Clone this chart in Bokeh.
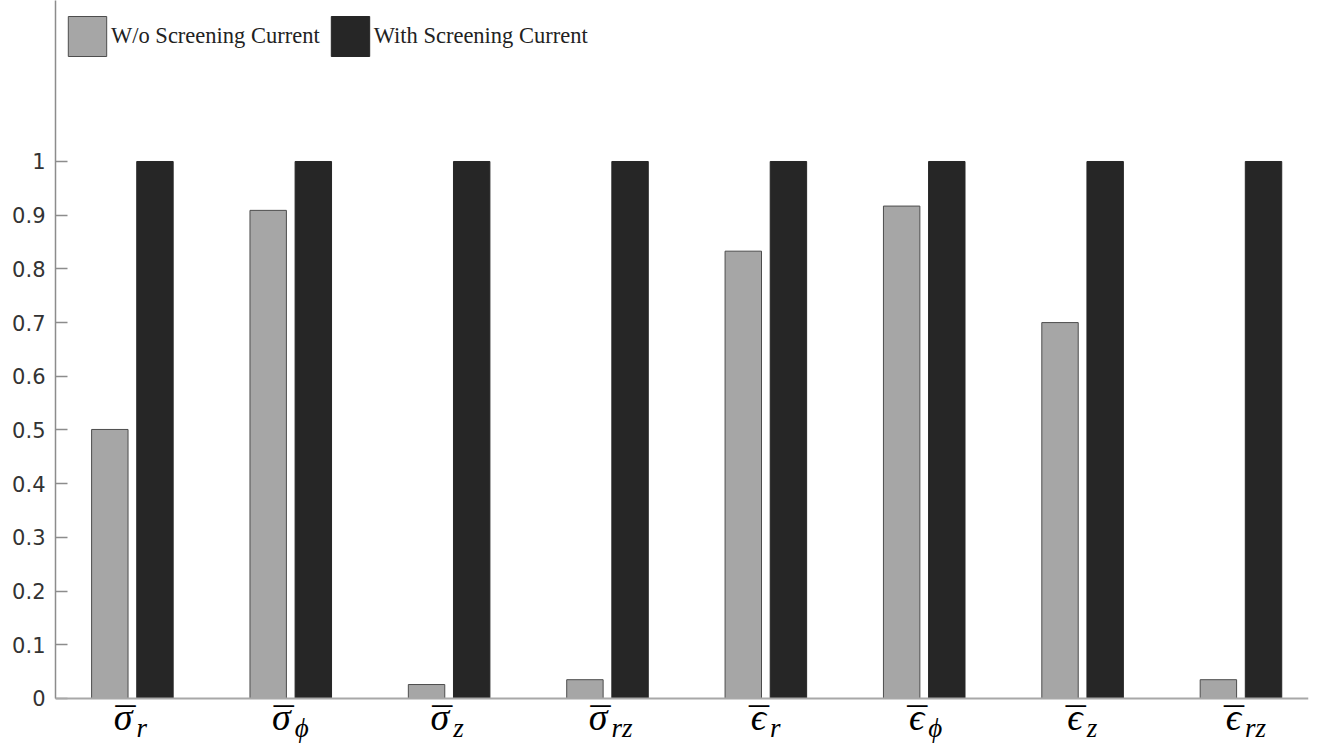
from bokeh.plotting import figure
from bokeh.models import Range1d, FixedTicker, Legend, LegendItem, ColumnDataSource, Span
from bokeh.transform import dodge
from bokeh.core.properties import value
from bokeh.embed import file_html
from bokeh.resources import INLINE

# ---- data ----
symbols = ["σ", "σ", "σ", "σ", "ϵ", "ϵ", "ϵ", "ϵ"]
bars = ["¯"] * 8
subscripts = ["r", "ϕ", "z", "rz", "r", "ϕ", "z", "rz"]
without_sc = [0.501, 0.909, 0.026, 0.035, 0.833, 0.917, 0.700, 0.035]
with_sc = [1.0, 1.0, 1.0, 1.0, 1.0, 1.0, 1.0, 1.0]
series_names = ["W/o Screening Current", "With Screening Current"]
y_ticks = [0, 0.1, 0.2, 0.3, 0.4, 0.5, 0.6, 0.7, 0.8, 0.9, 1]
y_tick_labels = ["0", "0.1", "0.2", "0.3", "0.4", "0.5", "0.6", "0.7", "0.8", "0.9", "1"]

idx = list(range(len(symbols)))
src = ColumnDataSource(dict(x=idx, wo=without_sc, w=with_sc))
lab = ColumnDataSource(dict(x=idx, y=[0] * len(idx), sym=symbols, bar=bars, sub=subscripts))

Y_TOP = 1.2998
p = figure(width=1317, height=746, output_backend="svg", toolbar_location=None,
           x_range=Range1d(-0.486, 7.426), y_range=Range1d(-0.0894, Y_TOP),
           min_border_left=55, min_border_right=9, min_border_top=0, min_border_bottom=0)

p.outline_line_color = None
p.xgrid.visible = False
p.ygrid.visible = False
p.background_fill_color = "white"
p.border_fill_color = "white"
p.xaxis.visible = False

r1 = p.vbar(x=dodge("x", -0.143, range=p.x_range), top="wo", width=0.23, source=src,
            fill_color="#a6a6a6", line_color="#4d4d4d", line_width=1)
r2 = p.vbar(x=dodge("x", 0.142, range=p.x_range), top="w", width=0.23, source=src,
            fill_color="#262626", line_color="#262626", line_width=1)

# x axis line at zero
p.add_layout(Span(location=0, dimension="width", line_color="#a8a8a8", line_width=2))

# y axis
p.yaxis.bounds = (0, Y_TOP)
p.yaxis.ticker = FixedTicker(ticks=y_ticks)
p.yaxis.major_label_overrides = {t: l for t, l in zip(y_ticks, y_tick_labels)}
p.yaxis.major_tick_in = 12
p.yaxis.major_tick_out = 0
p.yaxis.minor_tick_line_color = None
p.yaxis.axis_line_color = "#8c8c8c"
p.yaxis.axis_line_width = 1.5
p.yaxis.major_tick_line_color = "#8c8c8c"
p.yaxis.major_tick_line_width = 1.5
p.yaxis.major_label_text_font = "DejaVu Sans"
p.yaxis.major_label_text_font_size = "21px"
p.yaxis.major_label_text_color = "#333333"
p.yaxis.major_label_standoff = 10

# category labels (below the zero line)
serif = value("Liberation Serif")
p.text(x="x", y="y", text="sym", source=lab, x_offset=0, y_offset=-2,
       text_align="right", text_baseline="top", text_font=serif,
       text_font_style="italic", text_font_size="38px", text_color="black")
p.text(x="x", y="y", text="bar", source=lab, x_offset=-7, y_offset=2,
       text_align="center", text_baseline="top", text_font=serif,
       text_font_size="40px", text_color="black")
p.text(x="x", y="y", text="sub", source=lab, x_offset=4, y_offset=15,
       text_align="left", text_baseline="top", text_font=serif,
       text_font_style="italic", text_font_size="27px", text_color="black")

legend = Legend(items=[LegendItem(label=series_names[0], renderers=[r1]),
                       LegendItem(label=series_names[1], renderers=[r2])],
                orientation="horizontal", location=(8, 685),
                glyph_width=48, glyph_height=50, label_standoff=0, spacing=6,
                padding=0, margin=0, border_line_color=None, background_fill_alpha=0,
                label_text_font="Liberation Serif", label_text_font_size="22.5px",
                label_text_color="#222222")
p.add_layout(legend)

open("out.html", "w").write(file_html(p, INLINE))
